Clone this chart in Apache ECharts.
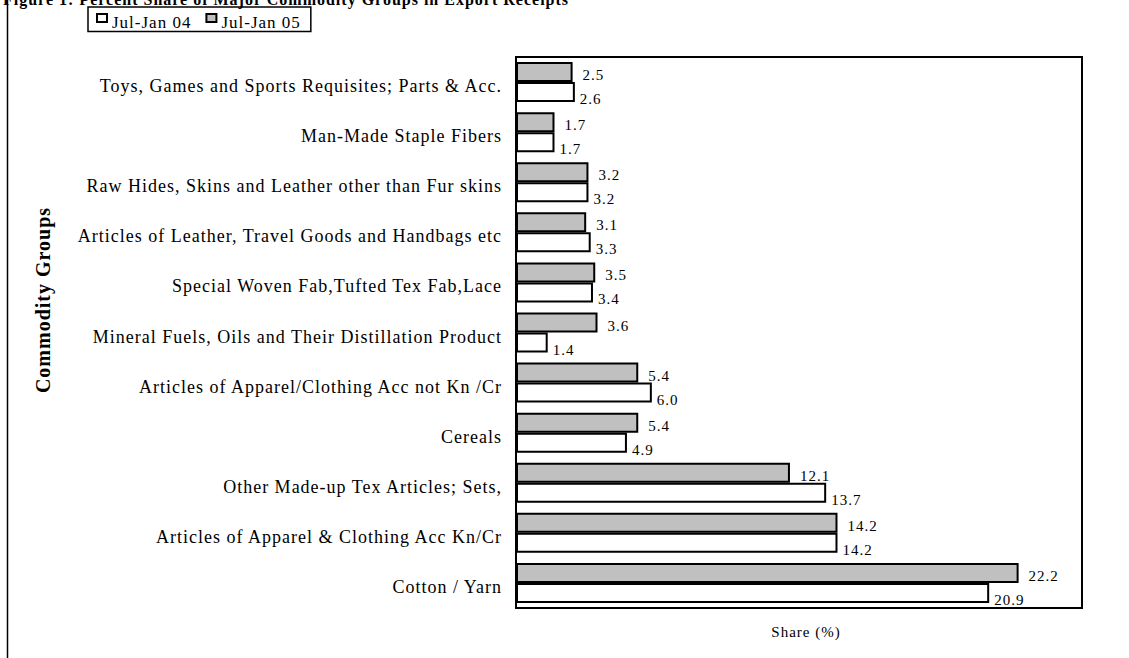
<!DOCTYPE html>
<html><head><meta charset="utf-8">
<script src="https://cdn.jsdelivr.net/npm/echarts@6/dist/echarts.min.js"></script>
<style>
html,body{margin:0;padding:0;background:#fff}
#c{width:1129px;height:658px}
#c svg text{letter-spacing:1px}
</style>
</head><body><div id="c"></div>
<script>
const categories = [
  "Toys, Games and Sports Requisites; Parts & Acc.",
  "Man-Made Staple Fibers",
  "Raw Hides, Skins and Leather other than Fur skins",
  "Articles of Leather, Travel Goods and Handbags etc",
  "Special Woven Fab,Tufted Tex Fab,Lace",
  "Mineral Fuels, Oils and Their Distillation Product",
  "Articles of Apparel/Clothing Acc not Kn /Cr",
  "Cereals",
  "Other Made-up Tex Articles; Sets,",
  "Articles of Apparel & Clothing Acc Kn/Cr",
  "Cotton / Yarn"
];
const julJan04 = [2.6, 1.7, 3.2, 3.3, 3.4, 1.4, 6.0, 4.9, 13.7, 14.2, 20.9];
const julJan05 = [2.5, 1.7, 3.2, 3.1, 3.5, 3.6, 5.4, 5.4, 12.1, 14.2, 22.2];
const titleText = 'Figure 1: Percent Share of Major Commodity Groups in Export Receipts';
const xName = 'Share (%)';
const yName = 'Commodity Groups';

const font = "'Liberation Serif', 'Times New Roman', serif";
const chart = echarts.init(document.getElementById('c'), null, { renderer: 'svg' });
chart.setOption({
  animation: false,
  textStyle: { fontFamily: font, color: '#000' },
  title: {
    text: titleText,
    left: -2, top: -14,
    textStyle: { fontFamily: font, fontSize: 16, fontWeight: 'bold', color: '#000' }
  },
  legend: {
    data: ['Jul-Jan 04', 'Jul-Jan 05'],
    left: 88, top: 7,
    orient: 'horizontal',
    borderColor: '#000', borderWidth: 1.5,
    padding: [6, 20, 1, 8],
    itemGap: 24,
    itemWidth: 10, itemHeight: 8,
    icon: 'rect',
    formatter: name => '{a|' + name + '}',
    textStyle: { fontFamily: font, fontSize: 17, color: '#000',
      rich: { a: { fontFamily: font, fontSize: 17, color: '#000', padding: [8, 0, 0, 0] } } }
  },
  graphic: [
    { type: 'line', shape: { x1: 7.5, y1: 0, x2: 7.5, y2: 658 }, style: { stroke: '#000', lineWidth: 1.5 } },
    { type: 'text', x: 43, y: 300, rotation: Math.PI / 2,
      style: { text: yName, font: "bold 20px 'Liberation Serif', serif", fill: '#000', align: 'center', verticalAlign: 'middle' } },
    { type: 'text', x: 806, y: 632,
      style: { text: xName, font: "15px 'Liberation Serif', serif", fill: '#000', align: 'center', verticalAlign: 'middle' } }
  ],
  grid: { left: 516, right: 47, top: 57, bottom: 50, show: true, borderColor: '#000', borderWidth: 2, backgroundColor: 'transparent' },
  xAxis: {
    type: 'value', min: 0, max: 25,
    axisLabel: { show: false }, axisTick: { show: false }, splitLine: { show: false },
    axisLine: { show: false }
  },
  yAxis: {
    type: 'category', data: categories, inverse: true,
    axisLabel: { fontFamily: font, fontSize: 18, color: '#000', margin: 14,
      formatter: v => '{a|' + v + '}',
      rich: { a: { fontFamily: font, fontSize: 18, color: '#000', padding: [8, 0, 0, 0] } } },
    axisTick: { show: false }, axisLine: { show: false }, splitLine: { show: false }
  },
  series: [
    {
      name: 'Jul-Jan 05', type: 'bar', data: julJan05,
      barWidth: 20, barGap: '0%',
      itemStyle: { color: '#c0c0c0', borderColor: '#000', borderWidth: 2 },
      label: { show: true, position: 'right', distance: 10, offset: [0, 3], fontFamily: font, fontSize: 15, color: '#000',
        formatter: p => p.value.toFixed(1) }
    },
    {
      name: 'Jul-Jan 04', type: 'bar', data: julJan04,
      barWidth: 20, barGap: '0%',
      itemStyle: { color: '#ffffff', borderColor: '#000', borderWidth: 2 },
      label: { show: true, position: 'right', distance: 5, offset: [0, 7], fontFamily: font, fontSize: 15, color: '#000',
        formatter: p => p.value.toFixed(1) }
    }
  ]
});
</script></body></html>
